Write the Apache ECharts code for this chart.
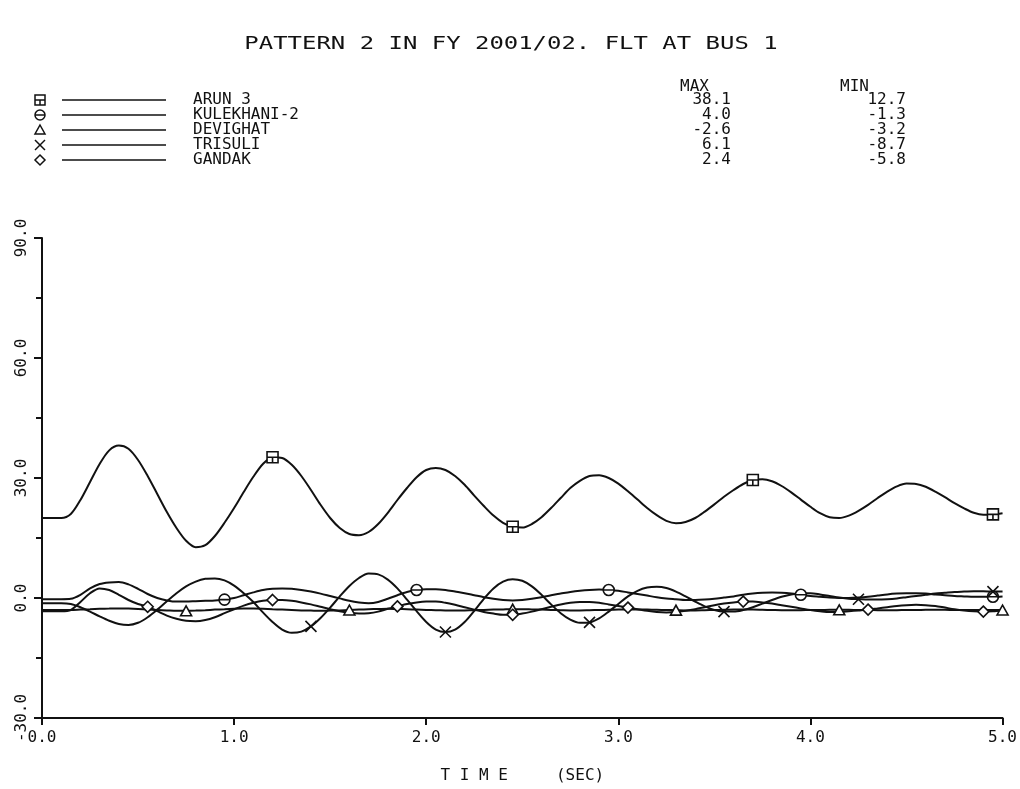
<!DOCTYPE html>
<html>
<head>
<meta charset="utf-8">
<title>PATTERN 2 IN FY 2001/02</title>
<script src="https://cdn.jsdelivr.net/npm/echarts@6/dist/echarts.min.js"></script>
<style>
  html, body { margin: 0; padding: 0; background: #fff; }
  #chart { width: 1020px; height: 789px; }
</style>
</head>
<body>
<div id="chart"></div>
<script>
const STEP = 0.05;

const arun3 = [
  20.0, 20.0, 20.0, 21.0, 24.5, 29.0, 33.5, 36.9, 38.1, 37.3,
  34.5, 30.5, 26.0, 21.5, 17.5, 14.3, 12.7, 13.2, 15.5, 18.8,
  22.5, 26.5, 30.3, 33.5, 35.2, 35.0, 33.3, 30.5, 27.0, 23.3,
  20.0, 17.5, 16.0, 15.7, 16.5, 18.5, 21.3, 24.5, 27.5, 30.2,
  32.0, 32.5, 32.0, 30.5, 28.3, 25.6, 23.0, 20.6, 18.8, 17.8,
  17.6, 18.5, 20.2, 22.5, 25.0, 27.5, 29.3, 30.5, 30.7, 30.0,
  28.6, 26.7, 24.6, 22.5, 20.7, 19.3, 18.7, 19.0, 20.0, 21.6,
  23.4, 25.3, 27.0, 28.5, 29.5, 29.7, 29.2, 28.0, 26.4, 24.6,
  22.8, 21.2, 20.2, 20.0, 20.6, 21.8, 23.3, 25.0, 26.6, 27.9,
  28.6, 28.5, 27.8, 26.6, 25.2, 23.7, 22.4, 21.3, 20.8, 20.9,
  21.2
];

const kulekhani2 = [
  -0.3, -0.3, -0.3, -0.2, 0.8, 2.4, 3.5, 3.9, 4.0, 3.4,
  2.3, 1.0, 0.0, -0.6, -0.9, -0.9, -0.8, -0.7, -0.6, -0.4,
  0.0, 0.7, 1.4, 2.0, 2.3, 2.4, 2.3, 2.0, 1.6, 1.1,
  0.5, -0.1, -0.7, -1.1, -1.3, -1.0, -0.2, 0.7, 1.5, 2.0,
  2.2, 2.2, 2.0, 1.6, 1.2, 0.7, 0.2, -0.2, -0.5, -0.6,
  -0.5, -0.2, 0.2, 0.7, 1.1, 1.5, 1.8, 2.0, 2.1, 2.0,
  1.8, 1.4, 1.0, 0.6, 0.2, -0.1, -0.3, -0.5, -0.5, -0.4,
  -0.2, 0.1, 0.4, 0.8, 1.1, 1.3, 1.4, 1.3, 1.1, 0.8,
  0.5, 0.3, 0.1, 0.0, 0.0, 0.1, 0.3, 0.6, 0.9, 1.1,
  1.2, 1.2, 1.1, 0.9, 0.7, 0.5, 0.4, 0.3, 0.3, 0.3,
  0.4
];

const devighat = [
  -3.0, -3.0, -3.0, -3.0, -2.9, -2.8, -2.7, -2.65, -2.6, -2.65,
  -2.75, -2.9, -3.0, -3.1, -3.2, -3.2, -3.15, -3.05, -2.9, -2.8,
  -2.7, -2.65, -2.65, -2.7, -2.8, -2.9, -3.0, -3.1, -3.15, -3.2,
  -3.15, -3.1, -3.0, -2.9, -2.8, -2.75, -2.7, -2.75, -2.8, -2.9,
  -3.0, -3.05, -3.1, -3.15, -3.1, -3.05, -3.0, -2.9, -2.85, -2.8,
  -2.8, -2.85, -2.9, -3.0, -3.05, -3.1, -3.1, -3.05, -3.0, -2.95,
  -2.9, -2.85, -2.85, -2.9, -2.95, -3.0, -3.05, -3.1, -3.1, -3.05,
  -3.0, -2.95, -2.9, -2.9, -2.9, -2.95, -3.0, -3.05, -3.05, -3.05,
  -3.0, -3.0, -2.95, -2.95, -2.95, -3.0, -3.0, -3.05, -3.05, -3.05,
  -3.0, -3.0, -2.95, -2.95, -2.95, -3.0, -3.0, -3.0, -3.0, -3.0,
  -3.0
];

const trisuli = [
  -1.3, -1.3, -1.3, -1.5, -2.3, -3.4, -4.6, -5.7, -6.5, -6.75,
  -6.2, -4.8, -2.9, -0.8, 1.2, 2.9, 4.1, 4.8, 4.9, 4.4,
  3.1, 1.2, -1.0, -3.6, -6.0, -7.9, -8.7, -8.4, -7.1, -5.0,
  -2.4, 0.4, 3.0, 5.0, 6.1, 5.9, 4.6, 2.4, -0.4, -3.3,
  -6.0, -7.9, -8.5, -7.9, -6.0, -3.2, -0.2, 2.4, 4.1, 4.7,
  4.3, 2.9, 0.8, -1.6, -3.8, -5.4, -6.2, -6.1, -5.1, -3.4,
  -1.5, 0.4, 1.8, 2.6, 2.8, 2.5, 1.6, 0.4, -0.9, -2.1,
  -3.0, -3.4, -3.4, -3.0, -2.3, -1.4, -0.5, 0.3, 0.9, 1.2,
  1.2, 0.9, 0.5, 0.1, -0.2, -0.3, -0.4, -0.4, -0.3, -0.1,
  0.2, 0.5, 0.8, 1.1, 1.3, 1.5, 1.6, 1.7, 1.7, 1.6,
  1.6
];

const gandak = [
  -3.3, -3.3, -3.3, -3.0, -1.0, 1.2, 2.4, 2.0, 0.8, -0.5,
  -1.5, -2.2, -3.3, -4.4, -5.2, -5.7, -5.8, -5.5, -4.8, -3.8,
  -2.8, -1.9, -1.2, -0.7, -0.5, -0.5, -0.7, -1.1, -1.6, -2.2,
  -2.8, -3.3, -3.7, -3.9, -3.8, -3.4, -2.7, -2.1, -1.5, -1.1,
  -0.9, -0.9, -1.2, -1.7, -2.3, -2.9, -3.5, -3.9, -4.2, -4.2,
  -3.9, -3.4, -2.8, -2.2, -1.6, -1.2, -1.0, -1.0, -1.2, -1.6,
  -2.0, -2.4, -2.8, -3.2, -3.5, -3.6, -3.5, -3.2, -2.8, -2.3,
  -1.8, -1.4, -1.1, -0.9, -0.9, -1.1, -1.4, -1.8, -2.2, -2.6,
  -3.0, -3.3, -3.5, -3.5, -3.3, -3.1, -2.9, -2.6, -2.3, -2.0,
  -1.8, -1.7, -1.8, -2.0, -2.4, -2.8, -3.1, -3.3, -3.4, -3.3,
  -3.1
];

// times (s) at which the plotter drew a marker on each curve
const arun3Marks = [1.20, 2.45, 3.70, 4.95];
const kulekhani2Marks = [0.95, 1.95, 2.95, 3.95, 4.95];
const devighatMarks = [0.75, 1.60, 2.45, 3.30, 4.15, 5.00];
const trisuliMarks = [1.40, 2.10, 2.85, 3.55, 4.25, 4.95];
const gandakMarks = [0.55, 1.20, 1.85, 2.45, 3.05, 3.65, 4.30, 4.90];

const seriesNames = ['ARUN 3', 'KULEKHANI-2', 'DEVIGHAT', 'TRISULI', 'GANDAK'];
const maxLabels = ['38.1', '4.0', '-2.6', '6.1', '2.4'];
const minLabels = ['12.7', '-1.3', '-3.2', '-8.7', '-5.8'];
const yTicks = [-30, 0, 30, 60, 90];
const xTicks = [0, 1, 2, 3, 4, 5];
const titleText = 'PATTERN 2 IN FY 2001/02. FLT AT BUS 1';

const FONT = '"DejaVu Sans Mono", "Liberation Mono", monospace';
const INK = '#111';

const SYMBOLS = {
  square: 'path://M0,0H10V10H0Z M0,5H10 M5,5V10',
  circle: 'path://M5,0A5,5,0,1,1,4.99,0Z M0,5H10',
  triangle: 'path://M5,0L10,9H0Z',
  cross: 'path://M0,0L10,10M10,0L0,10',
  diamond: 'path://M5,0L10,5L5,10L0,5Z'
};
const symbolKinds = ['square', 'circle', 'triangle', 'cross', 'diamond'];
const seriesValues = [arun3, kulekhani2, devighat, trisuli, gandak];
const seriesMarks = [arun3Marks, kulekhani2Marks, devighatMarks, trisuliMarks, gandakMarks];

const chart = echarts.init(document.getElementById('chart'), null, { renderer: 'canvas' });

const series = seriesNames.map((name, k) => {
  const marks = new Set(seriesMarks[k].map(t => Math.round(t / STEP)));
  return {
    name,
    type: 'line',
    smooth: 0.3,
    showAllSymbol: true,
    symbolSize: 11,
    symbolKeepAspect: true,
    animation: false,
    lineStyle: { color: INK, width: 2 },
    itemStyle: { color: '#fff', borderColor: INK, borderWidth: 1.6 },
    emphasis: { disabled: true },
    data: seriesValues[k].map((v, i) => ({
      value: [Math.round(i * STEP * 100) / 100, v],
      symbol: marks.has(i) ? SYMBOLS[symbolKinds[k]] : 'none'
    }))
  };
});

// plotter style legend: marker, short line, name, max, min
const LEG = { markX: 40, lineX0: 62, lineX1: 166, textX: 193, maxX: 731, minX: 906, y0: 100, dy: 15, s: 5 };
const st = { fill: '#fff', stroke: INK, lineWidth: 1.5 };

function marker(kind, cx, cy, s) {
  if (kind === 'square') {
    return [
      { type: 'rect', shape: { x: cx - s, y: cy - s, width: 2 * s, height: 2 * s }, style: st },
      { type: 'line', shape: { x1: cx - s, y1: cy, x2: cx + s, y2: cy }, style: st },
      { type: 'line', shape: { x1: cx, y1: cy, x2: cx, y2: cy + s }, style: st }
    ];
  }
  if (kind === 'circle') {
    return [
      { type: 'circle', shape: { cx, cy, r: s }, style: st },
      { type: 'line', shape: { x1: cx - s, y1: cy, x2: cx + s, y2: cy }, style: st }
    ];
  }
  if (kind === 'triangle') {
    return [{ type: 'polygon', shape: { points: [[cx, cy - s], [cx + s, cy + s * 0.8], [cx - s, cy + s * 0.8]] }, style: st }];
  }
  if (kind === 'cross') {
    return [
      { type: 'line', shape: { x1: cx - s, y1: cy - s, x2: cx + s, y2: cy + s }, style: st },
      { type: 'line', shape: { x1: cx + s, y1: cy - s, x2: cx - s, y2: cy + s }, style: st }
    ];
  }
  return [{ type: 'polygon', shape: { points: [[cx, cy - s], [cx + s, cy], [cx, cy + s], [cx - s, cy]] }, style: st }];
}

function label(text, x, y, align) {
  return {
    type: 'text',
    style: {
      text, x, y,
      font: '16px ' + FONT,
      fill: INK,
      align, textAlign: align,
      verticalAlign: 'middle', textVerticalAlign: 'middle'
    }
  };
}

// title is stretched sideways to match the wide plotter lettering
const graphics = [
  {
    type: 'text',
    x: 511,
    y: 44,
    scaleX: 1.33,
    style: {
      text: titleText, x: 0, y: 0,
      font: '18px ' + FONT,
      fill: INK,
      align: 'center', textAlign: 'center',
      verticalAlign: 'middle', textVerticalAlign: 'middle'
    }
  },
  label('MAX', LEG.maxX - 51, LEG.y0 - 13, 'left'),
  label('MIN', LEG.minX - 66, LEG.y0 - 13, 'left')
];
seriesNames.forEach((name, k) => {
  const y = LEG.y0 + k * LEG.dy;
  graphics.push(...marker(symbolKinds[k], LEG.markX, y, LEG.s));
  graphics.push({ type: 'line', shape: { x1: LEG.lineX0, y1: y, x2: LEG.lineX1, y2: y }, style: { stroke: INK, lineWidth: 1.5 } });
  graphics.push(label(name, LEG.textX, y, 'left'));
  graphics.push(label(maxLabels[k], LEG.maxX, y, 'right'));
  graphics.push(label(minLabels[k], LEG.minX, y, 'right'));
});

const option = {
  backgroundColor: '#fff',
  animation: false,
  grid: { left: 42, right: 17, top: 238, bottom: 71 },
  xAxis: {
    type: 'value',
    min: xTicks[0],
    max: xTicks[xTicks.length - 1],
    interval: 1,
    name: 'T I M E     (SEC)',
    nameLocation: 'middle',
    nameGap: 50,
    nameTextStyle: { fontFamily: FONT, fontSize: 16, color: INK },
    axisLine: { onZero: false, lineStyle: { color: INK, width: 2 } },
    axisTick: { show: true, length: 7, lineStyle: { color: INK, width: 2 } },
    axisLabel: { fontFamily: FONT, fontSize: 16, color: INK, margin: 12, formatter: v => v.toFixed(1) },
    splitLine: { show: false }
  },
  yAxis: {
    type: 'value',
    min: yTicks[0],
    max: yTicks[yTicks.length - 1],
    interval: 30,
    axisLine: { show: true, onZero: false, lineStyle: { color: INK, width: 2 } },
    axisTick: { show: true, length: 8, lineStyle: { color: INK, width: 2 } },
    minorTick: { show: true, splitNumber: 2, length: 6, lineStyle: { color: INK, width: 2 } },
    axisLabel: { rotate: 90, fontFamily: FONT, fontSize: 16, color: INK, margin: 12, formatter: v => v.toFixed(1) },
    splitLine: { show: false }
  },
  graphic: graphics,
  series
};

chart.setOption(option);
</script>
</body>
</html>
